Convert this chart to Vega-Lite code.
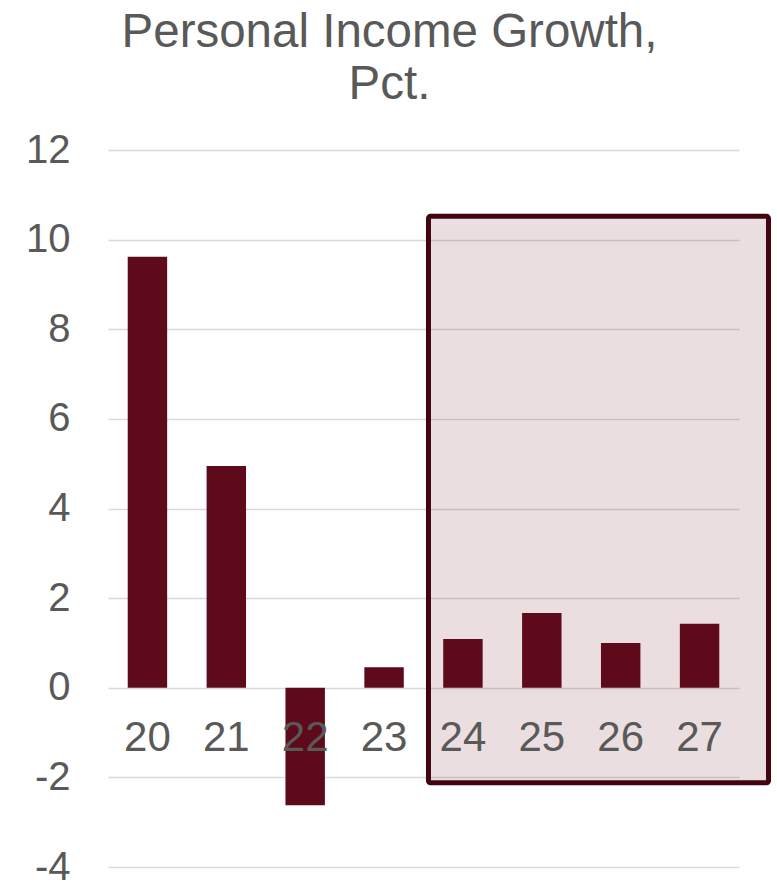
{
  "$schema": "https://vega.github.io/schema/vega-lite/v6.json",
  "width": 631,
  "height": 717,
  "autosize": {"type": "none"},
  "padding": {"left": 108, "top": 150, "right": 38, "bottom": 18},
  "background": "white",
  "config": {
    "view": {"stroke": null},
    "font": "Liberation Sans"
  },
  "title": {
    "text": ["Personal Income Growth,", "Pct."],
    "fontSize": 47.5,
    "font": "Liberation Sans",
    "fontWeight": "normal",
    "color": "#595959",
    "anchor": "middle",
    "dx": -34,
    "lineHeight": 52,
    "offset": 22
  },
  "data": {
    "values": [
      {"year": "20", "growth": 9.62},
      {"year": "21", "growth": 4.95},
      {"year": "22", "growth": -2.62},
      {"year": "23", "growth": 0.46},
      {"year": "24", "growth": 1.09},
      {"year": "25", "growth": 1.67},
      {"year": "26", "growth": 1.0},
      {"year": "27", "growth": 1.43}
    ]
  },
  "layer": [
    {
      "data": {"values": [{"label": "forecast"}]},
      "mark": {"type": "rect", "fill": "#5e0a1a", "fillOpacity": 0.135, "stroke": "#40050f", "strokeWidth": 5, "cornerRadius": 2, "clip": false},
      "encoding": {
        "x": {"datum": 4.063, "type": "quantitative", "scale": {"domain": [0, 8], "nice": false, "zero": false}, "axis": null},
        "x2": {"datum": 8.374},
        "y": {"datum": 10.52, "type": "quantitative", "scale": {"domain": [-4, 12], "nice": false}},
        "y2": {"datum": -2.12}
      }
    },
    {
      "mark": {"type": "bar", "color": "#5e0a1a"},
      "encoding": {
        "x": {"field": "year", "type": "ordinal", "scale": {"paddingInner": 0.5, "paddingOuter": 0.25}, "axis": null},
        "y": {
          "field": "growth",
          "type": "quantitative",
          "scale": {"domain": [-4, 12], "nice": false},
          "axis": {
            "title": null,
            "values": [-4, -2, 0, 2, 4, 6, 8, 10, 12],
            "labelExpr": "replace(datum.label, '\u2212', '-')",
            "labelFontSize": 40,
            "labelColor": "#595959",
            "labelFont": "Liberation Sans",
            "labelPadding": 38,
            "ticks": false,
            "domain": false,
            "grid": true,
            "gridColor": "#d9d9d9",
            "gridWidth": 1.5
          }
        }
      }
    },
    {
      "mark": {"type": "text", "fontSize": 42, "color": "#595959", "font": "Liberation Sans", "baseline": "middle", "align": "center"},
      "encoding": {
        "x": {"field": "year", "type": "ordinal", "axis": null},
        "y": {"datum": -1.13, "type": "quantitative"},
        "text": {"field": "year"}
      }
    }
  ],
  "resolve": {"scale": {"x": "independent"}}
}
